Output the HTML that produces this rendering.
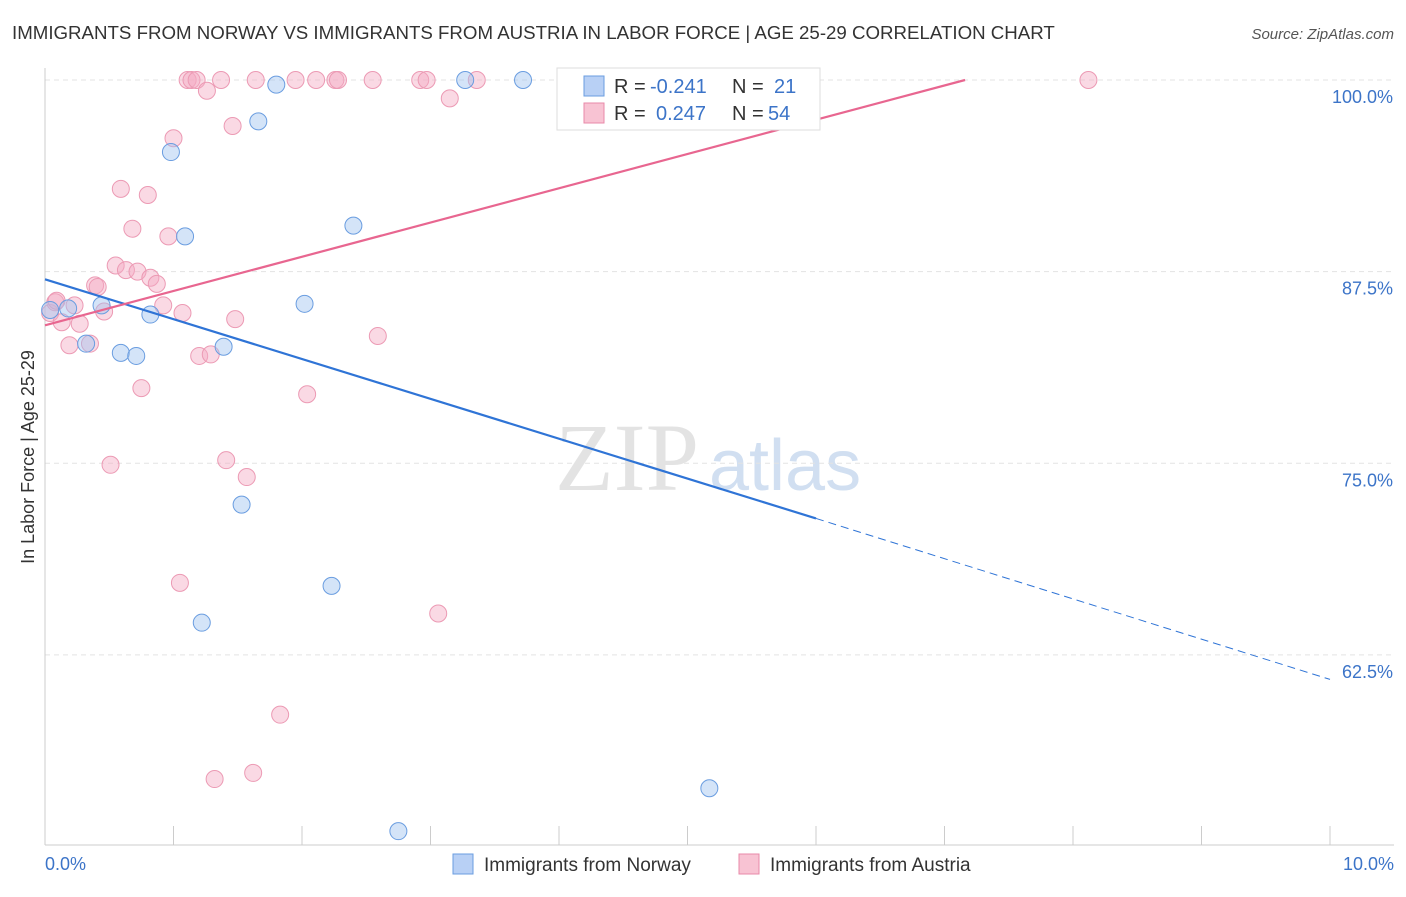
<!DOCTYPE html>
<html><head><meta charset="utf-8"><style>
body{margin:0;background:#fff;font-family:"Liberation Sans",sans-serif;}
</style></head><body>
<svg id="c" width="1406" height="892" xmlns="http://www.w3.org/2000/svg" style="font-family:'Liberation Sans',sans-serif">
<text x="12" y="39" font-size="18.7" fill="#333">IMMIGRANTS FROM NORWAY VS IMMIGRANTS FROM AUSTRIA IN LABOR FORCE | AGE 25-29 CORRELATION CHART</text>
<text x="1394" y="39" font-size="15" fill="#555" font-style="italic" text-anchor="end">Source: ZipAtlas.com</text>
<text x="555" y="490" font-size="96" fill="#ddd" font-family="Liberation Serif" opacity="0.8">ZIP<tspan fill="#c6d8ee" font-family="Liberation Sans" font-size="72" dx="10">atlas</tspan></text>
<text transform="translate(34,457) rotate(-90)" font-size="18" fill="#333" text-anchor="middle">In Labor Force | Age 25-29</text>
<g id="grid"></g><g id="pts"></g><g id="lines"></g>
<g>
<rect x="557" y="68" width="263" height="62" fill="#fff" stroke="#ddd"/>
<rect x="584" y="76" width="20" height="20" fill="#b8d0f5" stroke="#6a9de0"/>
<rect x="584" y="103" width="20" height="20" fill="#f8c3d3" stroke="#e88aa8"/>
<text x="614" y="93" font-size="20" fill="#333">R =</text>
<text x="650" y="93" font-size="20" fill="#3c74c8">-0.241</text>
<text x="732" y="93" font-size="20" fill="#333">N =</text>
<text x="774" y="93" font-size="20" fill="#3c74c8">21</text>
<text x="614" y="120" font-size="20" fill="#333">R =</text>
<text x="656" y="120" font-size="20" fill="#3c74c8">0.247</text>
<text x="732" y="120" font-size="20" fill="#333">N =</text>
<text x="768" y="120" font-size="20" fill="#3c74c8">54</text>
</g>
<g>
<rect x="453" y="854" width="20" height="20" fill="#b8d0f5" stroke="#6a9de0"/>
<text x="484" y="871" font-size="19" fill="#333">Immigrants from Norway</text>
<rect x="739" y="854" width="20" height="20" fill="#f8c3d3" stroke="#e88aa8"/>
<text x="770" y="871" font-size="19" fill="#333">Immigrants from Austria</text>
</g>
<text x="45" y="870" font-size="18" fill="#3c74c8">0.0%</text>
<text x="1394" y="870" font-size="18" fill="#3c74c8" text-anchor="end">10.0%</text>
</svg>
<script>
const yTicks=[100,87.5,75,62.5];
const yTickLabels=["100.0%","87.5%","75.0%","62.5%"];
const xTicks=[0,1,2,3,4,5,6,7,8,9,10];
const norwayX=[0.18,0.44,0.32,0.59,0.71,0.82,0.98,1.09,1.39,1.53,1.66,1.80,2.02,2.23,2.40,1.22,2.75,3.27,3.72,5.17,0.04];
const norwayY=[85.1,85.3,82.8,82.2,82.0,84.7,95.3,89.8,82.6,72.3,97.3,99.7,85.4,67.0,90.5,64.6,51.0,100,100,53.8,85.0];
const austriaX=[0.04,0.08,0.13,0.19,0.23,0.27,0.35,0.39,0.41,0.46,0.51,0.55,0.59,0.63,0.68,0.72,0.75,0.80,0.82,0.87,0.92,0.96,1.00,1.05,1.07,1.11,1.14,1.18,1.20,1.26,1.29,1.32,1.37,1.41,1.46,1.48,1.57,1.62,1.64,1.83,1.95,2.04,2.11,2.26,2.28,2.55,2.59,2.92,2.97,3.06,3.15,3.36,8.12,0.09];
const austriaY=[84.8,85.5,84.2,82.7,85.3,84.1,82.8,86.6,86.5,84.9,74.9,87.9,92.9,87.6,90.3,87.5,79.9,92.5,87.1,86.7,85.3,89.8,96.2,67.2,84.8,100,100,100,82.0,99.3,82.1,54.4,100,75.2,97.0,84.4,74.1,54.8,100,58.6,100,79.5,100,100,100,100,83.3,100,100,65.2,98.8,100,100,85.6];
const X=v=>45+v*128.5, Y=v=>80+(100-v)*15.33;
const NS="http://www.w3.org/2000/svg";
function mk(t,a,p){const e=document.createElementNS(NS,t);for(const k in a)e.setAttribute(k,a[k]);p.appendChild(e);return e;}
const g=document.getElementById('grid');
yTicks.forEach((t,i)=>{const l=mk('line',{x1:45,x2:1394,y1:Y(t),y2:Y(t),stroke:'#e3e3e3','stroke-dasharray':'5,4'},g);


const tx=mk('text',{x:1393,y:Y(t)+23,'font-size':18,fill:'#3c74c8','text-anchor':'end'},g);tx.textContent=yTickLabels[i];

});
const ax=mk('line',{x1:45,x2:45,y1:68,y2:845,stroke:'#ccc'},g);


const bx=mk('line',{x1:45,x2:1394,y1:845,y2:845,stroke:'#ccc'},g);


xTicks.forEach(t=>{const l=mk('line',{x1:X(t),x2:X(t),y1:826,y2:845,stroke:'#ccc'},g);

});
const p=document.getElementById('pts');
austriaX.forEach((x,i)=>{const c=mk('circle',{cx:X(x),cy:Y(austriaY[i]),r:8.5,fill:'rgba(245,170,195,0.45)',stroke:'#ec9ab4','stroke-width':1},p);

});
norwayX.forEach((x,i)=>{const c=mk('circle',{cx:X(x),cy:Y(norwayY[i]),r:8.5,fill:'rgba(160,195,240,0.45)',stroke:'#6a9de0','stroke-width':1},p);

});
const L=document.getElementById('lines');
const n1=mk('line',{x1:X(0),y1:Y(87.0),x2:X(6),y2:Y(71.4),stroke:'#2f74d6','stroke-width':2.2},L);


const n2=mk('line',{x1:X(6),y1:Y(71.4),x2:X(10),y2:Y(60.9),stroke:'#2f74d6','stroke-width':1,'stroke-dasharray':'8,5'},L);


const a1=mk('line',{x1:X(0),y1:Y(84.0),x2:X(7.16),y2:Y(100),stroke:'#e86690','stroke-width':2.2},L);


</script>
</body></html>
